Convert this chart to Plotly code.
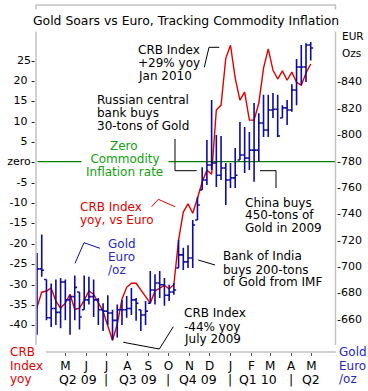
import pandas as pd
import plotly.graph_objects as go

# ---------------- data ----------------
gold_dates = pd.date_range("2009-03-20", periods=59, freq="7D")
gold_high = [710, 724, 690, 687, 690, 691, 690, 678, 693, 680.5, 693, 692, 690, 676, 672, 678, 667, 671,
             674.5, 677.5, 683.6, 676, 667, 673.7, 696.4, 694, 696.4, 691, 686, 687.3, 720, 714, 716, 735,
             752.5, 775, 795.7, 826, 799.5, 798.7, 778.3, 778.3, 789.6, 809.3, 805.5, 801.7, 823.7, 816,
             830, 830, 831.3, 830, 822, 826, 838, 857, 867.7, 869, 870]
gold_low = [648, 692, 659, 654, 655.5, 653, 659, 648, 659, 652, 667, 671, 661.5, 655.5, 651, 655.5, 644, 646,
            655.5, 661, 663, 658.6, 651, 655.5, 672, 671, 676, 670, 673.7, 678.3, 698.7, 697.2, 698.7, 698.7,
            735, 757.8, 761.6, 773, 760, 765.4, 746.4, 759.3, 759.3, 780.5, 770.7, 773, 764, 779, 798, 798,
            812.3, 798, 812.3, 807, 817, 822, 837.3, 839.6, 856]
gold_close = [698, 697, 661, 668, 665, 688, 674.5, 677, 684, 661.5, 674.5, 677, 674.5, 667, 666, 664.6, 659,
              667, 667, 668, 674.5, 672, 663, 666, 682, 687.3, 686, 678, 680.5, 682, 708.6, 703.3, 706.3,
              731.3, 746.4, 765.4, 776.7, 778.3, 769, 774.5, 765.4, 767, 769, 784.3, 782, 788, 788, 808.6,
              803.3, 818.4, 819, 798.7, 820, 818.4, 833.6, 851, 851, 867.7, 865.4]

crb_dates = pd.date_range("2009-03-13", periods=60, freq="7D")
crb_yoy = [-39.5, -36.0, -32.1, -31.8, -31.1, -34.3, -36.0, -34.8, -32.6, -36.3, -36.0, -34.1, -31.8, -32.6,
           -34.8, -36.8, -40.4, -43.9, -40.0, -33.8, -30.9, -29.9, -29.9, -31.6, -33.3, -34.8, -31.8, -31.1,
           -30.4, -31.3, -30.2, -19.3, -12.4, -10.4, -12.7, -9.0, -5.0, -2.1, -3.1, 12.7, 13.9, 25.4, 28.6,
           20.5, 15.1, 17.1, 10.2, 10.2, 14.4, 23.0, 27.7, 22.5, 20.3, 22.3, 20.0, 22.0, 19.5, 18.8, 21.8, 24.0]

month_ticks = ["2009-05-01", "2009-06-01", "2009-07-01", "2009-08-01", "2009-09-01", "2009-10-01",
               "2009-11-01", "2009-12-01", "2010-01-01", "2010-02-01", "2010-03-01", "2010-04-01", "2010-05-01"]
month_labels = ["M", "J", "J", "A", "S", "O", "N", "D", "J", "F", "M", "A", "M"]
quarter_labels = ["Q2 09", "Q3 09", "Q4 09", "Q1 10", "Q2"]
quarter_bounds = ["2009-07-01", "2009-10-01", "2010-01-01", "2010-04-01"]

left_ticks = [-40, -35, -30, -25, -20, -15, -10, -5, 0, 5, 10, 15, 20, 25]
left_labels = ["-40 -", "-35 -", "-30 -", "-25 -", "-20 -", "-15 -", "-10 -", "-5 -", "zero-",
               "5 -", "10 -", "15 -", "20 -", "25-"]
right_ticks = [660, 680, 700, 720, 740, 760, 780, 800, 820, 840]
right_labels = ["-" + str(v) for v in right_ticks]

# open tick = previous week's close (clamped to the bar)
gold_open = []
for i, c in enumerate(gold_close):
    prev = gold_close[i - 1] if i > 0 else c
    gold_open.append(min(max(prev, gold_low[i]), gold_high[i]))

# ---------------- style ----------------
FONT = "DejaVu Sans"
BLUE = "#0c0ca0"
RED = "#e00000"
GREEN = "#008000"
AXIS = "#c2c2c2"
W, H = 368, 391
L, R, T, B = 36, 336, 5, 352


def fx(px):
    return (px - L) / (R - L)


def fy(py):
    return (B - py) / (B - T)


fig = go.Figure()
fig.add_trace(go.Ohlc(x=gold_dates, open=gold_open, high=gold_high, low=gold_low, close=gold_close,
                      yaxis="y2", tickwidth=0.5,
                      increasing=dict(line=dict(color=BLUE, width=1.6)),
                      decreasing=dict(line=dict(color=BLUE, width=1.6)),
                      hoverinfo="skip"))
fig.add_trace(go.Scatter(x=crb_dates, y=crb_yoy, mode="lines", yaxis="y",
                         line=dict(color=RED, width=1.4), hoverinfo="skip"))

shapes = []
# green zero line (zero commodity inflation)
shapes.append(dict(type="line", xref="paper", yref="y", x0=0.005, x1=1, y0=0, y1=0,
                   line=dict(color=GREEN, width=1.3), layer="below"))


def seg(points, color="black", width=1):
    path = "M " + " L ".join(f"{fx(a):.4f},{fy(b):.4f}" for a, b in points)
    return dict(type="path", xref="paper", yref="paper", path=path,
                line=dict(color=color, width=width))


# frame
shapes.append(seg([(36, 5), (36, 345)], AXIS, 1.5))
shapes.append(seg([(335.5, 5), (335.5, 345)], AXIS, 1.5))
shapes.append(seg([(36, 5), (336, 5)], AXIS, 1.5))
shapes.append(seg([(46, 352), (336, 352)], AXIS, 1.5))
# connectors
shapes.append(seg([(204.3, 67.3), (209, 47.3), (219.3, 47.3)]))
shapes.append(seg([(175, 139), (175, 170.7), (196.7, 170.7)]))
shapes.append(seg([(260, 170.7), (276, 170.7), (276, 188)]))
shapes.append(seg([(151.7, 206.7), (158.3, 199.3), (175, 206.7)], RED))
shapes.append(seg([(75, 263.3), (84, 242.7), (100, 248.3)], BLUE))
shapes.append(seg([(198.3, 260), (215, 265)]))
shapes.append(seg([(123.3, 342.3), (159.3, 349), (173.3, 326.7)]))

anns = []


def text(lines, x, ys, color="black", size=12, anchor="left", **kw):
    for t, y in zip(lines, ys):
        anns.append(dict(text=t, x=fx(x), y=fy(y), xref="paper", yref="paper", showarrow=False,
                         xanchor=anchor, yanchor="middle", font=dict(family=FONT, size=size, color=color),
                         **kw))


text(["Gold Soars vs Euro, Tracking Commodity Inflation"], 186, [20.7], "black", 12.4, "center",
     bgcolor="white", borderpad=3)
text(["CRB Index", "+29% yoy", "Jan 2010"], 136, [50, 63, 76])
text(["Russian central", "bank buys", "30-tons of Gold"], 95, [100.3, 113, 126])
text(["Zero"], 124, [146], "#10a010", 12, "center")
text(["Commodity"], 125, [158.7], "#10a010", 12, "center", bgcolor="white", width=86, borderpad=0)
text(["Inflation rate"], 124, [172], "#10a010", 12, "center")
text(["China buys", "450-tons of", "Gold in 2009"], 243.3, [202.5, 215, 227.8])
text(["CRB Index", "yoy, vs Euro"], 78.3, [207, 220.3], RED)
text(["Gold", "Euro", "/oz"], 106, [243.7, 256.8, 270], "#2828c0")
text(["Bank of India", "buys 200-tons", "of Gold from IMF"], 220.7, [256.2, 269.5, 282])
text(["CRB Index", "-44% yoy", "July 2009"], 181.7, [313.3, 326.7, 339.2])
text(["CRB", "Index", "yoy"], 7.5, [352.3, 366, 379], RED, 12)
text(["Gold", "Euro", "/oz"], 336.5, [352.3, 366, 379], "#2828c0", 12)
text(["EUR", "Ozs"], 340, [36, 52.7], "black", 10.5)

q_centers = [77.5, 137.5, 197.5, 258, 311]
for q, cx in zip(quarter_labels, q_centers):
    text([q], cx, [379.5], "black", 12.5, "center")
for d in quarter_bounds:
    anns.append(dict(text="|", x=d, y=fy(379.5), xref="x", yref="paper", showarrow=False,
                     xanchor="center", yanchor="middle", font=dict(family=FONT, size=12.5, color="black")))

fig.update_layout(
    width=W, height=H, autosize=False,
    margin=dict(l=L, r=W - R, t=T, b=H - B, pad=0),
    paper_bgcolor="white", plot_bgcolor="white",
    showlegend=False,
    shapes=shapes, annotations=anns,
    xaxis=dict(type="date", range=["2009-03-18 12:00", "2010-06-06 12:00"],
               tickvals=month_ticks, ticktext=month_labels, ticks="outside", ticklen=3,
               tickcolor="#555555", tickwidth=1, showgrid=False, zeroline=False, showline=False,
               tickfont=dict(family=FONT, size=12, color="black"),
               rangeslider=dict(visible=False), fixedrange=True),
    yaxis=dict(range=[-46.8, 38.5], tickvals=left_ticks, ticktext=left_labels, ticks="",
               showgrid=False, zeroline=False, showline=False,
               tickfont=dict(family=FONT, size=11, color="black")),
    yaxis2=dict(range=[635, 898], overlaying="y", side="right", tickvals=right_ticks,
                ticktext=right_labels, ticks="", showgrid=False, zeroline=False, showline=False,
                tickfont=dict(family=FONT, size=11, color="black")),
)

fig.write_html("out.html", config={"displayModeBar": False},
               post_script="document.body.style.margin='0px';document.body.style.padding='0px';"
                           "document.body.style.overflow='hidden';")
